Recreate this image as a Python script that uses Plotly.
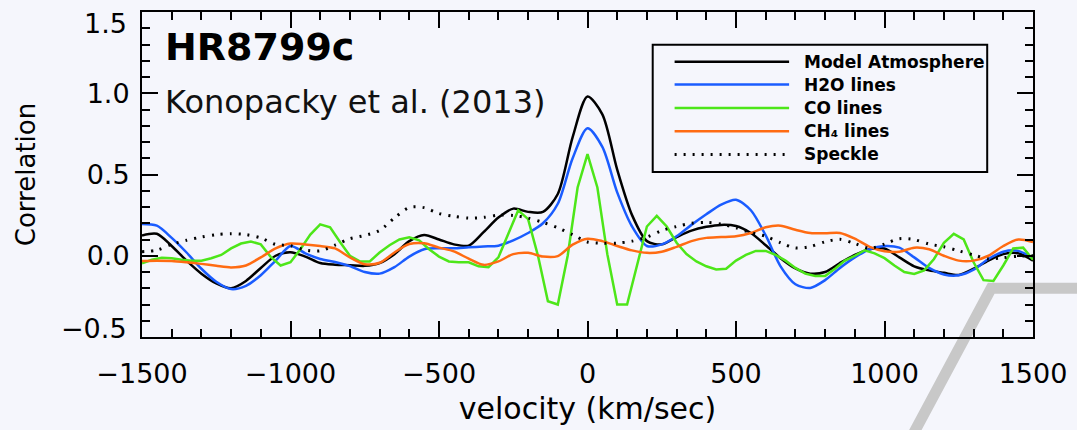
import plotly.graph_objects as go

# ---------------- data ----------------
velocity = [-1500, -1450, -1400, -1350, -1300, -1250, -1200, -1150, -1100, -1050,
            -1000, -950, -900, -850, -800, -750, -700, -650, -600, -550,
            -500, -450, -400, -350, -300, -250, -200, -150, -100, -50,
            0, 50, 100, 150, 200, 250, 300, 350, 400, 450,
            500, 550, 600, 650, 700, 750, 800, 850, 900, 950,
            1000, 1050, 1100, 1150, 1200, 1250, 1300, 1350, 1400, 1450, 1500]

model_atm = [0.125, 0.135, 0.06, -0.03, -0.11, -0.17, -0.2, -0.155, -0.075, 0.0,
             0.022, -0.005, -0.045, -0.055, -0.058, -0.062, -0.045, 0.01, 0.09, 0.128,
             0.1, 0.07, 0.062, 0.145, 0.235, 0.29, 0.27, 0.27, 0.38, 0.73,
             0.98, 0.87, 0.53, 0.25, 0.09, 0.07, 0.115, 0.155, 0.178, 0.19,
             0.183, 0.14, 0.065, -0.015, -0.078, -0.11, -0.1, -0.045, 0.005, 0.04,
             0.045, -0.01, -0.065, -0.09, -0.105, -0.118, -0.08, -0.03, 0.01, 0.015, -0.03]

h2o_lines = [0.195, 0.185, 0.11, 0.02, -0.08, -0.16, -0.205, -0.185, -0.12, -0.03,
             0.06, 0.015, -0.02, -0.038, -0.064, -0.1, -0.11, -0.07, -0.005, 0.04,
             0.046, 0.046, 0.052, 0.057, 0.062, 0.095, 0.14, 0.2, 0.32, 0.6,
             0.785, 0.67, 0.39, 0.18, 0.06, 0.07, 0.12, 0.19, 0.255, 0.315,
             0.345, 0.28, 0.125, -0.065, -0.175, -0.198, -0.15, -0.075, -0.01, 0.04,
             0.06, 0.05, -0.01, -0.075, -0.115, -0.12, -0.085, -0.02, 0.025, 0.03, -0.015]

ch4_lines = [-0.032, -0.03, -0.032, -0.04, -0.05, -0.062, -0.072, -0.06, -0.01, 0.045,
             0.075, 0.07, 0.06, 0.045, -0.01, -0.052, -0.043, 0.02, 0.072, 0.077,
             0.05, 0.027, -0.018, -0.056, -0.035, 0.01, 0.018, -0.005, -0.002, 0.068,
             0.105, 0.09, 0.06, 0.033, 0.018, 0.025, 0.055, 0.09, 0.11, 0.115,
             0.12, 0.14, 0.175, 0.185, 0.16, 0.14, 0.138, 0.14, 0.105, 0.055,
             0.028, 0.025, 0.05, 0.04, 0.0, -0.03, -0.03, 0.0, 0.06, 0.1, 0.085]

speckle = [0.025, 0.035, 0.07, 0.095, 0.115, 0.13, 0.136, 0.13, 0.11, 0.07,
           0.062, 0.035, 0.03, 0.066, 0.105, 0.125, 0.156, 0.233, 0.297, 0.296,
           0.26, 0.243, 0.232, 0.236, 0.25, 0.248, 0.232, 0.205, 0.172, 0.13,
           0.085, 0.077, 0.078, 0.09, 0.115, 0.155, 0.18, 0.2, 0.205, 0.195,
           0.172, 0.142, 0.12, 0.08, 0.048, 0.056, 0.086, 0.101, 0.075, 0.045,
           0.072, 0.105, 0.099, 0.072, 0.055, 0.03, 0.005, -0.02, -0.012, -0.003, 0.0]

velocity_co = [-1500, -1466.7, -1433.3, -1400, -1366.7, -1333.3, -1300, -1266.7, -1233.3, -1200,
               -1166.7, -1133.3, -1100, -1066.7, -1033.3, -1000, -966.7, -933.3, -900, -866.7,
               -833.3, -800, -766.7, -733.3, -700, -666.7, -633.3, -600, -566.7, -533.3,
               -500, -466.7, -433.3, -400, -366.7, -333.3, -300, -266.7, -233.3, -200,
               -166.7, -133.3, -100, -66.7, -33.3, 0, 33.3, 66.7, 100, 133.3,
               166.7, 200, 233.3, 266.7, 300, 333.3, 366.7, 400, 433.3, 466.7,
               500, 533.3, 566.7, 600, 633.3, 666.7, 700, 733.3, 766.7, 800,
               833.3, 866.7, 900, 933.3, 966.7, 1000, 1033.3, 1066.7, 1100, 1133.3,
               1166.7, 1200, 1233.3, 1266.7, 1300, 1333.3, 1366.7, 1400, 1433.3, 1466.7, 1500]

co_lines = [-0.046, -0.025, -0.012, -0.015, -0.025, -0.03, -0.03, -0.015, 0.005, 0.045,
            0.075, 0.088, 0.07, -0.007, -0.06, -0.04, 0.04, 0.13, 0.193, 0.175,
            0.085, 0.0, -0.035, -0.035, 0.02, 0.065, 0.1, 0.113, 0.095, 0.04,
            -0.005, -0.035, -0.04, -0.04, -0.065, -0.07, -0.01, 0.13, 0.28, 0.225,
            0.0, -0.28, -0.3, 0.0, 0.42, 0.625, 0.42, 0.01, -0.3, -0.3,
            -0.05, 0.18, 0.245, 0.18, 0.08, 0.01, -0.035, -0.065, -0.085, -0.08,
            -0.03, 0.005, 0.03, 0.03, 0.005, -0.03, -0.075, -0.11, -0.125, -0.125,
            -0.08, -0.03, 0.0, 0.034, 0.015, -0.015, -0.06, -0.1, -0.112, -0.09,
            -0.02, 0.08, 0.135, 0.1, -0.04, -0.15, -0.155, -0.06, 0.045, 0.05, -0.025]

x_ticks = [-1500, -1000, -500, 0, 500, 1000, 1500]
y_inner_ticks = [0.0, 0.5, 1.0]
y_end_ticks = [-0.5, 1.5]
y_end_labels = ["\u22120.5", "1.5"]

legend_labels = ["Model Atmosphere", "H2O lines", "CO lines", "CH\u2084 lines", "Speckle"]
colors = ["#000000", "#1a5cff", "#4de619", "#ff6b12", "#000000"]
dashes = ["solid", "solid", "solid", "solid", "2px,7px"]

# ---------------- layout geometry ----------------
W, H = 1077, 430
ML, MR, MT, MB = 142, 40, 10, 93
PW, PH = W - ML - MR, H - MT - MB
BG = "#f5f6fc"
FONT = "DejaVu Sans"


def px(x):
    return (x - ML) / PW


def py(y):
    return (H - MB - y) / PH


fig = go.Figure()

series = [
    (velocity, model_atm, "spline"),
    (velocity, h2o_lines, "spline"),
    (velocity_co, co_lines, "linear"),
    (velocity, ch4_lines, "spline"),
    (velocity, speckle, "spline"),
]
for i, (xs, ys, shp) in enumerate(series):
    fig.add_trace(go.Scatter(
        x=xs, y=ys, mode="lines", name=legend_labels[i],
        line=dict(color=colors[i], width=3 if i == 4 else 2.5, dash=dashes[i],
                  shape=shp, smoothing=0.8),
        showlegend=False, hoverinfo="skip"))

shapes = []
# decorative grey slide stripe (bottom right)
shapes.append(dict(type="path", xref="paper", yref="paper", layer="below",
                   path=f"M {px(917)} {py(434)} L {px(995)} {py(288)} L {px(1085)} {py(288)}",
                   line=dict(color="#c8c8c8", width=11)))

# legend box drawn by hand (long sample lines as in the reference)
shapes.append(dict(type="rect", xref="paper", yref="paper",
                   x0=px(655), x1=px(991), y0=py(171), y1=py(43),
                   line=dict(color="black", width=2), fillcolor=BG, layer="above"))
row_y = [60, 83, 106.5, 130, 153.3]
annotations = []
for i, lab in enumerate(legend_labels):
    shapes.append(dict(type="line", xref="paper", yref="paper",
                       x0=px(677), x1=px(792), y0=py(row_y[i]), y1=py(row_y[i]),
                       line=dict(color=colors[i], width=3 if i == 4 else 2.5,
                                 dash="2px,7px" if i == 4 else "solid")))
    annotations.append(dict(xref="paper", yref="paper", x=px(805), y=py(row_y[i]),
                            xanchor="left", yanchor="middle", text=lab, showarrow=False,
                            font=dict(family=FONT, size=17, color="black", weight="bold")))

annotations.append(dict(xref="paper", yref="paper", x=px(163), y=py(45),
                        xanchor="left", yanchor="middle", text="HR8799c",
                        showarrow=False,
                        font=dict(family=FONT, size=38, color="black", weight="bold")))
annotations.append(dict(xref="paper", yref="paper", x=px(163), y=py(101),
                        xanchor="left", yanchor="middle", text="Konopacky et al. (2013)",
                        showarrow=False, font=dict(family=FONT, size=32, color="#111111")))

# end labels of the y axis sit slightly inside the frame, as in the reference
tick_font = dict(family=FONT, size=27, color="black")
for val, lab, shift in zip(y_end_ticks, y_end_labels, [9, -11]):
    annotations.append(dict(xref="paper", yref="y", x=0, y=val, xanchor="right",
                            yanchor="middle", xshift=-13, yshift=shift, text=lab,
                            showarrow=False, font=tick_font))

axis_common = dict(showline=True, linewidth=2, linecolor="black", mirror="allticks",
                   ticks="inside", tickwidth=2, tickcolor="black", ticklen=16,
                   showgrid=False, zeroline=False, ticklabeloverflow="allow",
                   tickfont=tick_font)

fig.update_layout(
    width=W, height=H,
    margin=dict(l=ML, r=MR, t=MT, b=MB),
    paper_bgcolor=BG, plot_bgcolor="rgba(0,0,0,0)",
    showlegend=False,
    shapes=shapes, annotations=annotations,
    xaxis=dict(range=[-1500, 1500], tickvals=x_ticks, ticklabelstandoff=12,
               minor=dict(dtick=100, ticks="inside", ticklen=8, tickwidth=2, tickcolor="black"),
               title=dict(text="velocity (km/sec)", standoff=10,
                          font=dict(family=FONT, size=30, color="black")),
               **axis_common),
    yaxis=dict(range=[-0.5, 1.5], tickvals=y_inner_ticks, tickformat=".1f", ticklabelstandoff=5,
               minor=dict(dtick=0.1, ticks="inside", ticklen=8, tickwidth=2, tickcolor="black"),
               title=dict(text="Correlation", standoff=44,
                          font=dict(family=FONT, size=26, color="black")),
               **axis_common),
)

fig.write_html("out.html",
               config={"displayModeBar": False},
               post_script="document.body.style.margin='0px';"
                           "document.body.style.background='#f5f6fc';")
